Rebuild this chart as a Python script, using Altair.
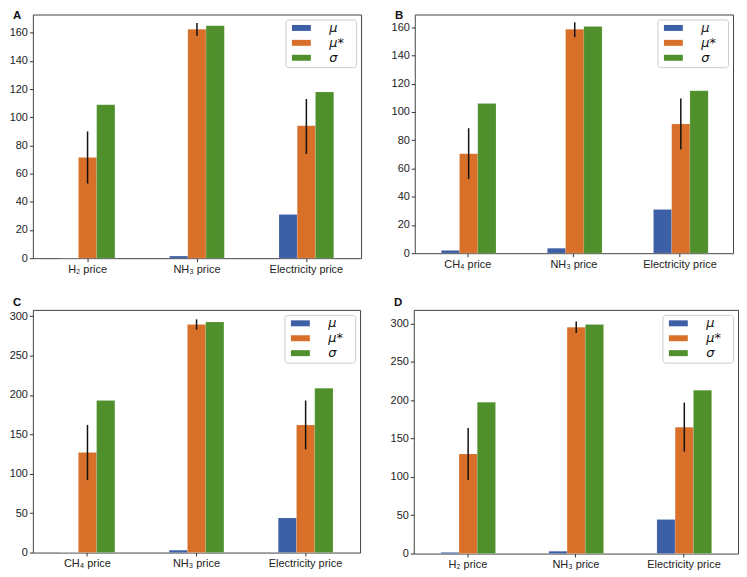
import altair as alt
import pandas as pd

SERIES = ["μ", "μ*", "σ"]
COLORS = ["#3d5fa5", "#d8702a", "#4f902d"]

# Panel A
a_cats = ["H₂ price", "NH₃ price", "Electricity price"]
a_mu = [0.0, 1.5, 31.0]
a_mustar = [71.5, 162.5, 94.0]
a_sigma = [109.0, 165.0, 118.0]
a_lo = [53.0, 158.0, 74.0]
a_hi = [90.0, 167.0, 113.0]

# Panel B
b_cats = ["CH₄ price", "NH₃ price", "Electricity price"]
b_mu = [2.0, 3.5, 31.0]
b_mustar = [70.5, 158.5, 91.5]
b_sigma = [106.0, 160.5, 115.0]
b_lo = [52.5, 153.0, 73.5]
b_hi = [88.5, 163.5, 109.5]

# Panel C
c_cats = ["CH₄ price", "NH₃ price", "Electricity price"]
c_mu = [0.0, 3.0, 44.0]
c_mustar = [127.0, 289.5, 162.0]
c_sigma = [193.0, 292.5, 208.5]
c_lo = [92.0, 283.0, 131.0]
c_hi = [162.0, 296.0, 193.0]

# Panel D
d_cats = ["H₂ price", "NH₃ price", "Electricity price"]
d_mu = [1.5, 3.0, 44.5]
d_mustar = [130.0, 295.5, 165.0]
d_sigma = [197.5, 299.0, 213.0]
d_lo = [96.0, 288.0, 133.0]
d_hi = [164.0, 303.0, 197.0]

FONT = "Liberation Sans"


def panel(letter, cats, mu, mustar, sigma, lo, hi, ymax, ticks, w, h, letter_y):
    rows = []
    for i, c in enumerate(cats):
        rows.append({"cat": c, "series": SERIES[0], "value": mu[i]})
        rows.append({"cat": c, "series": SERIES[1], "value": mustar[i]})
        rows.append({"cat": c, "series": SERIES[2], "value": sigma[i]})
    df = pd.DataFrame(rows)
    err = pd.DataFrame({"cat": cats, "series": [SERIES[1]] * 3, "lo": lo, "hi": hi})

    xenc = alt.X("cat:N", sort=cats,
                 scale=alt.Scale(paddingInner=0.5, paddingOuter=0.25),
                 axis=alt.Axis(title=None, labelAngle=0))
    xoff = alt.XOffset("series:N", scale=alt.Scale(domain=SERIES, paddingInner=0, paddingOuter=0))
    yscale = alt.Scale(domain=[0, ymax], nice=False)
    yaxis = alt.Axis(title=None, values=ticks, labelOverlap=False, tickCount=len(ticks))

    bars = alt.Chart(df).mark_bar(stroke="#ffffff", strokeOpacity=0.25, strokeWidth=0.5).encode(
        x=xenc,
        xOffset=xoff,
        y=alt.Y("value:Q", scale=yscale, axis=yaxis),
        color=alt.Color("series:N", scale=alt.Scale(domain=SERIES, range=COLORS),
                        legend=alt.Legend(title=None, orient="top-right",
                                          labelExpr="datum.label + '\u2800'")),
    )
    errs = alt.Chart(err).mark_rule(color="#111111", strokeWidth=1.5).encode(
        x=xenc,
        xOffset=xoff,
        y=alt.Y("lo:Q", scale=yscale, axis=yaxis),
        y2="hi:Q",
    )
    lab = alt.Chart(pd.DataFrame({"t": [letter]})).mark_text(
        fontWeight="bold", fontSize=11.5, align="left", baseline="top", font=FONT, color="#111"
    ).encode(x=alt.value(-20), y=alt.value(letter_y), text="t:N")
    return alt.layer(bars, errs, lab).properties(width=w, height=h)


A = panel("A", a_cats, a_mu, a_mustar, a_sigma, a_lo, a_hi, 173, list(range(0, 161, 20)), 330, 245, -4)
B = panel("B", b_cats, b_mu, b_mustar, b_sigma, b_lo, b_hi, 169, list(range(0, 161, 20)), 320, 240, -4)
C = panel("C", c_cats, c_mu, c_mustar, c_sigma, c_lo, c_hi, 308, list(range(0, 301, 50)), 329, 244, -13)
D = panel("D", d_cats, d_mu, d_mustar, d_sigma, d_lo, d_hi, 318, list(range(0, 301, 50)), 326, 245, -13)

row1 = alt.hconcat(A, B, spacing=28).resolve_scale(color="independent").resolve_legend(color="independent")
row2 = alt.hconcat(C, D, spacing=28).resolve_scale(color="independent").resolve_legend(color="independent")

chart = alt.vconcat(row1, row2, spacing=21).resolve_scale(color="independent").resolve_legend(
    color="independent"
).properties(padding={"left": 0, "top": 0, "right": 0, "bottom": 0}).configure_view(
    stroke="#444444", strokeWidth=1
).configure_axis(
    labelFont=FONT, labelFontSize=11, labelColor="#222222", domain=False,
    tickColor="#333333", tickSize=3.5, grid=False, labelPadding=2,
).configure_legend(
    symbolType="M-0.4,-0.6L3.4,-0.6L3.4,0.6L-0.4,0.6Z", symbolSize=100, symbolStrokeWidth=0,
    labelFont="DejaVu Sans", labelFontStyle="italic", labelFontSize=13, labelColor="#111111",
    labelOffset=29,
    strokeColor="#cccccc", fillColor="#ffffff", cornerRadius=3, padding=2, rowPadding=1,
    offset=5, symbolOpacity=1,
)

chart.save("out.html", embed_options={"renderer": "svg", "actions": False})
